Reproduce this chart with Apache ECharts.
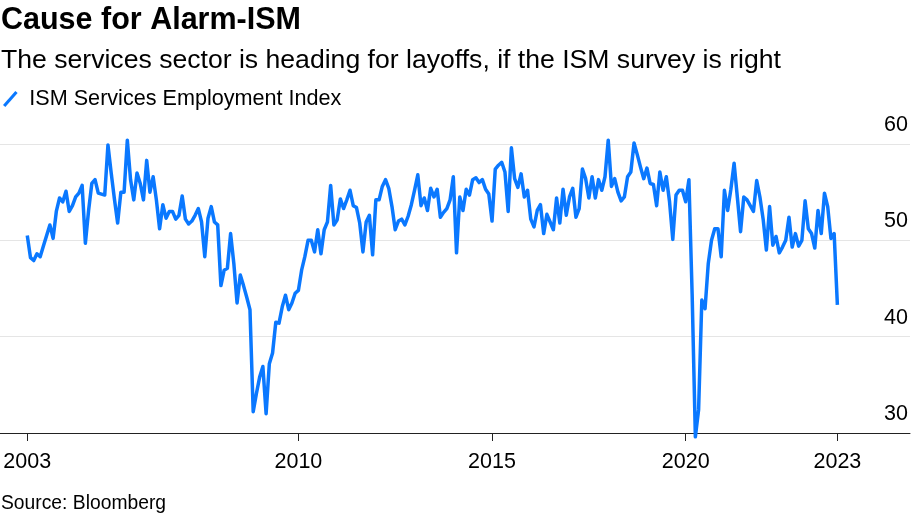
<!DOCTYPE html>
<html><head><meta charset="utf-8">
<script src="https://cdn.jsdelivr.net/npm/echarts@6/dist/echarts.min.js"></script>
<style>html,body{margin:0;padding:0;background:#fff}#c{width:911px;height:517px}</style>
</head><body><div id="c"></div>
<script>
// ISM Services Employment Index, monthly, Jan 2003 - Dec 2023
const y2003 = [50.5, 48.2, 47.9, 48.6, 48.3, 49.4, 50.5, 51.6, 50.2, 53.0, 54.4, 54.0];
const y2004 = [55.1, 53.0, 53.6, 54.5, 54.9, 55.7, 49.7, 53.1, 55.9, 56.3, 54.9, 54.8];
const y2005 = [54.7, 59.9, 57.0, 54.3, 51.8, 55.0, 55.0, 60.4, 56.3, 54.2, 57.0, 55.9];
const y2006 = [54.2, 58.3, 55.0, 56.6, 54.2, 51.2, 53.7, 52.3, 53.0, 53.0, 52.2, 52.6];
const y2007 = [54.6, 52.2, 51.7, 52.0, 52.6, 53.3, 51.9, 48.3, 52.3, 53.5, 51.9, 51.6];
const y2008 = [45.3, 46.9, 47.1, 50.7, 47.6, 43.5, 46.4, 45.3, 44.1, 42.8, 32.2, 34.1];
const y2009 = [35.8, 36.9, 32.0, 37.2, 38.3, 41.5, 41.4, 43.1, 44.3, 42.8, 43.5, 44.5];
const y2010 = [44.8, 46.9, 48.3, 50.0, 50.0, 48.8, 51.1, 48.6, 51.1, 51.9, 55.7, 51.6];
const y2011 = [52.1, 54.3, 53.3, 54.2, 55.2, 53.6, 53.4, 51.8, 48.8, 51.9, 52.6, 48.5];
const y2012 = [54.2, 54.2, 55.6, 56.3, 55.4, 53.5, 51.1, 52.0, 52.2, 51.6, 52.5, 53.7];
const y2013 = [55.2, 56.8, 53.6, 54.4, 53.1, 55.4, 54.5, 55.3, 52.4, 52.9, 53.3, 54.2];
const y2014 = [56.6, 48.7, 54.5, 53.1, 55.3, 54.7, 56.3, 56.5, 56.0, 56.3, 55.3, 54.8];
const y2015 = [52.0, 57.4, 57.8, 58.1, 57.1, 53.0, 59.6, 56.4, 55.5, 56.9, 54.5, 55.2];
const y2016 = [52.2, 51.4, 53.1, 53.7, 50.7, 52.7, 51.9, 51.1, 54.4, 51.8, 55.3, 52.6];
const y2017 = [54.5, 55.4, 52.4, 53.3, 57.4, 56.4, 54.4, 56.6, 54.4, 56.3, 55.2, 56.6];
const y2018 = [60.4, 55.6, 56.4, 55.0, 54.1, 54.5, 56.6, 57.1, 60.1, 58.9, 57.6, 56.4];
const y2019 = [57.5, 55.9, 55.8, 53.6, 57.1, 55.2, 56.6, 54.0, 50.1, 54.7, 55.2, 55.2];
const y2020 = [54.0, 56.3, 44.4, 29.6, 32.4, 43.8, 42.9, 47.6, 50.0, 51.2, 51.2, 48.3];
const y2021 = [55.2, 53.1, 55.3, 58.0, 54.5, 50.9, 54.5, 54.2, 53.6, 53.0, 56.2, 54.5];
const y2022 = [52.2, 49.0, 53.5, 49.5, 50.4, 48.7, 49.3, 50.0, 52.4, 49.3, 50.7, 49.4];
const y2023 = [50.0, 54.1, 51.2, 50.7, 49.2, 53.1, 50.7, 54.9, 53.5, 50.2, 50.7, 43.3];

const startYear = 2003;
const tickMonths = [0, 84, 144, 204, 251];           // months since Jan 2003
const tickLabels = ['2003', '2010', '2015', '2020', '2023'];
const yTicks = [30, 40, 50, 60];

const yearly = [y2003, y2004, y2005, y2006, y2007, y2008, y2009, y2010, y2011, y2012, y2013,
  y2014, y2015, y2016, y2017, y2018, y2019, y2020, y2021, y2022, y2023];
const values = [].concat(...yearly);
const points = values.map((v, i) => [i, v]);

const FONT = '"Liberation Sans", Arial, Helvetica, sans-serif';
const BLUE = '#0a78ff';
const chart = echarts.init(document.getElementById('c'), null, { renderer: 'canvas' });
chart.setOption({
  animation: false,
  backgroundColor: '#fff',
  title: [
    { text: 'Cause for Alarm-ISM', left: 1, top: 5, padding: 0,
      textStyle: { fontFamily: FONT, fontSize: 30.5, fontWeight: 'bold', color: '#000' } },
    { text: 'The services sector is heading for layoffs, if the ISM survey is right', left: 1, top: 47, padding: 0,
      textStyle: { fontFamily: FONT, fontSize: 26.6, fontWeight: 'normal', color: '#000' } },
    { text: 'Source: Bloomberg', left: 1, top: 494, padding: 0,
      textStyle: { fontFamily: FONT, fontSize: 19.3, fontWeight: 'normal', color: '#000' } }
  ],
  legend: {
    left: 3, top: 88, padding: 0, itemWidth: 16, itemHeight: 16,
    icon: 'path://M0,14.5 L12.8,0 L15.2,2.1 L2.4,16.6 Z',
    textStyle: { fontFamily: FONT, fontSize: 21.6, color: '#000', padding: [0, 0, 0, 6] },
    data: ['ISM Services Employment Index']
  },
  grid: { left: 0, right: 0, top: 144, bottom: 84 },
  xAxis: {
    type: 'value', min: -8.45, max: 273.5,
    splitLine: { show: false },
    axisLine: { show: true, onZero: false, lineStyle: { color: '#222', width: 1 } },
    axisTick: { show: true, length: 8, customValues: tickMonths, lineStyle: { color: '#222', width: 1 } },
    axisLabel: {
      customValues: tickMonths,
      formatter: v => tickLabels[tickMonths.indexOf(Math.round(v))] || '',
      fontFamily: FONT, fontSize: 21.5, color: '#000', margin: 18
    }
  },
  yAxis: {
    type: 'value', position: 'right', min: 30, max: 60, interval: 10,
    axisLine: { show: false }, axisTick: { show: false },
    splitLine: { lineStyle: { color: '#e5e5e5', width: 1 } },
    axisLabel: {
      inside: true, margin: 2, verticalAlign: 'bottom', padding: [0, 0, 8, 0],
      formatter: v => (yTicks.indexOf(v) >= 0 ? String(v) : ''),
      fontFamily: FONT, fontSize: 21.5, color: '#000'
    }
  },
  series: [{
    name: 'ISM Services Employment Index', type: 'line', data: points,
    showSymbol: false, symbol: 'none', clip: false,
    lineStyle: { color: BLUE, width: 3.5, join: 'round' }, itemStyle: { color: BLUE }
  }]
});
</script></body></html>
